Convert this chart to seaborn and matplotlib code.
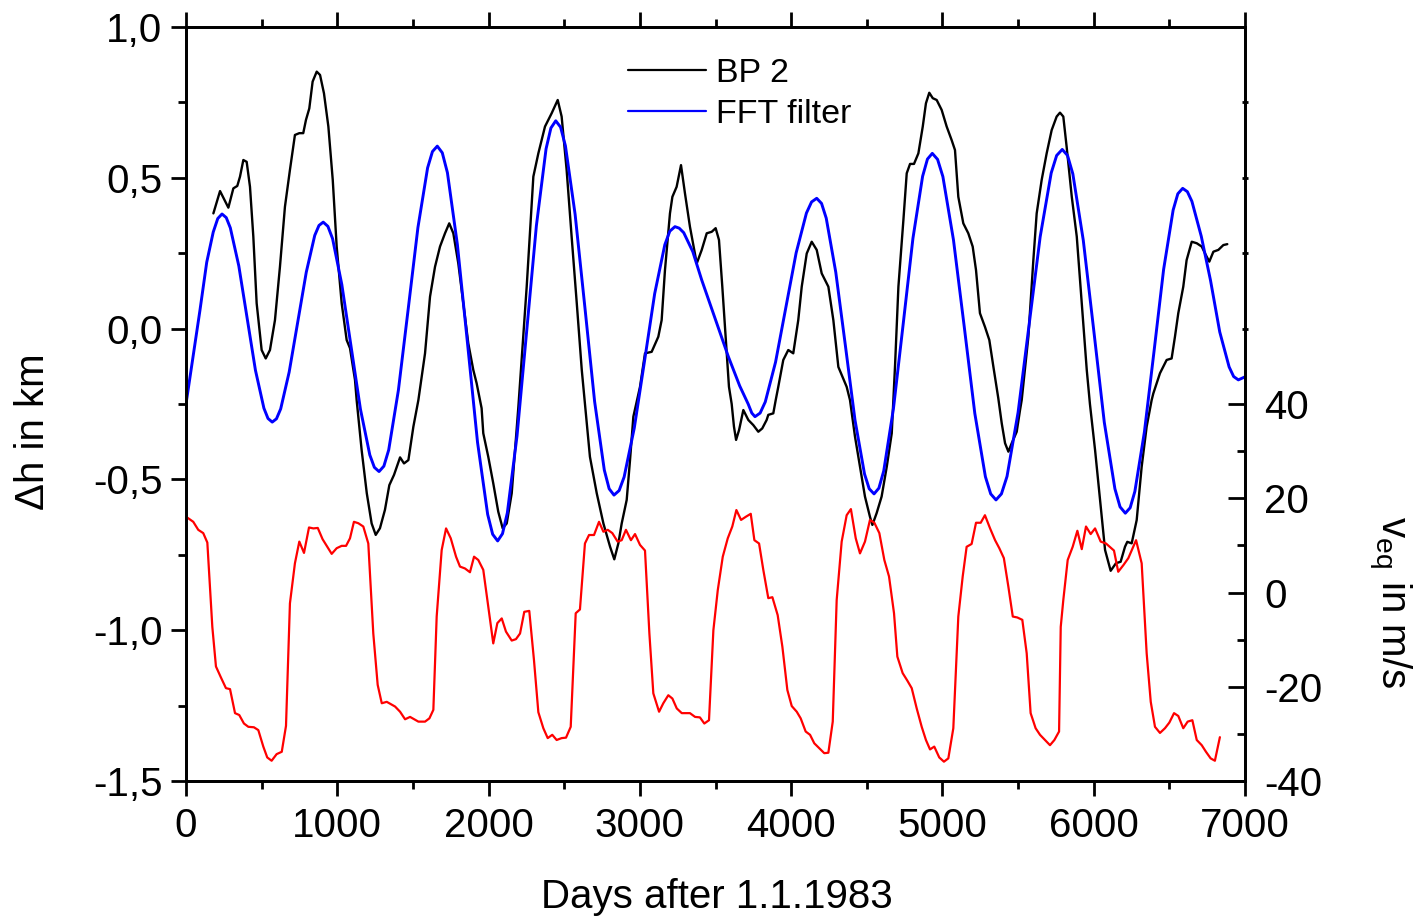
import matplotlib
matplotlib.use('Agg')
import matplotlib.pyplot as plt
import seaborn as sns
from matplotlib.ticker import MultipleLocator, FixedLocator, FuncFormatter, NullFormatter

# ---------------- data ----------------
bp2_days = [181, 225, 280, 313, 339, 357, 379, 401, 423, 445, 467, 500, 527, 555, 588, 621, 654, 687,
            720, 749, 775, 793, 815, 837, 864, 886, 912, 941, 970, 996, 1029, 1062, 1084, 1117, 1128,
            1161, 1195, 1227, 1254, 1282, 1315, 1344, 1375, 1415, 1441, 1470, 1503, 1536, 1580, 1613,
            1646, 1679, 1712, 1740, 1767, 1800, 1833, 1866, 1899, 1921, 1954, 1965, 1998, 2031, 2064,
            2093, 2120, 2153, 2175, 2197, 2252, 2296, 2329, 2373, 2417, 2457, 2483, 2516, 2549, 2583,
            2616, 2637, 2670, 2715, 2759, 2803, 2831, 2858, 2880, 2913, 2935, 2957, 3001, 3034, 3078,
            3122, 3144, 3166, 3199, 3215, 3243, 3272, 3298, 3331, 3376, 3409, 3442, 3475, 3501, 3523,
            3545, 3567, 3589, 3607, 3622, 3636, 3656, 3684, 3717, 3750, 3783, 3809, 3838, 3849, 3882,
            3898, 3915, 3948, 3981, 4014, 4047, 4070, 4103, 4136, 4169, 4202, 4246, 4279, 4312, 4367,
            4389, 4422, 4455, 4488, 4521, 4537, 4565, 4598, 4632, 4665, 4687, 4709, 4742, 4764, 4786,
            4812, 4841, 4870, 4891, 4913, 4936, 4962, 4995, 5028, 5061, 5083, 5105, 5138, 5171, 5200,
            5222, 5248, 5281, 5310, 5337, 5369, 5392, 5414, 5436, 5458, 5491, 5513, 5524, 5568, 5601,
            5623, 5656, 5689, 5722, 5755, 5777, 5799, 5821, 5855, 5888, 5921, 5954, 5975, 6009, 6042,
            6075, 6112, 6147, 6178, 6207, 6222, 6251, 6284, 6317, 6350, 6383, 6394, 6438, 6482, 6515,
            6537, 6559, 6592, 6614, 6648, 6681, 6714, 6736, 6764, 6791, 6824, 6857, 6883]
bp2_km = [0.382, 0.456, 0.401, 0.465, 0.473, 0.504, 0.559, 0.553, 0.47, 0.305, 0.084, -0.071, -0.099,
          -0.071, 0.028, 0.205, 0.404, 0.526, 0.642, 0.648, 0.648, 0.692, 0.73, 0.819, 0.852, 0.841,
          0.78, 0.67, 0.493, 0.272, 0.084, -0.038, -0.065, -0.17, -0.237, -0.403, -0.546, -0.646,
          -0.684, -0.662, -0.601, -0.519, -0.485, -0.427, -0.447, -0.436, -0.325, -0.237, -0.082,
          0.106, 0.205, 0.272, 0.316, 0.349, 0.316, 0.216, 0.084, -0.049, -0.137, -0.181, -0.264,
          -0.347, -0.425, -0.513, -0.607, -0.662, -0.646, -0.546, -0.403, -0.259, 0.139, 0.504, 0.581,
          0.67, 0.714, 0.758, 0.703, 0.526, 0.305, 0.084, -0.137, -0.25, -0.425, -0.546, -0.646, -0.723,
          -0.765, -0.712, -0.646, -0.568, -0.436, -0.292, -0.193, -0.082, -0.077, -0.027, 0.028, 0.194,
          0.382, 0.437, 0.47, 0.542, 0.449, 0.338, 0.216, 0.261, 0.316, 0.321, 0.333, 0.294, 0.139,
          -0.027, -0.193, -0.25, -0.325, -0.369, -0.336, -0.27, -0.303, -0.32, -0.342, -0.331, -0.303,
          -0.286, -0.281, -0.237, -0.193, -0.104, -0.071, -0.082, 0.028, 0.139, 0.249, 0.288, 0.261,
          0.183, 0.139, 0.028, -0.127, -0.193, -0.237, -0.358, -0.458, -0.557, -0.624, -0.651, -0.612,
          -0.557, -0.458, -0.347, -0.12, 0.139, 0.36, 0.515, 0.546, 0.546, 0.581, 0.67, 0.747, 0.782,
          0.764, 0.758, 0.725, 0.67, 0.625, 0.592, 0.437, 0.349, 0.316, 0.272, 0.194, 0.051, 0.006,
          -0.038, -0.127, -0.23, -0.314, -0.38, -0.408, -0.38, -0.342, -0.27, -0.237, -0.027, 0.227,
          0.382, 0.493, 0.581, 0.658, 0.703, 0.716, 0.703, 0.603, 0.437, 0.305, 0.084, -0.137, -0.25,
          -0.403, -0.568, -0.734, -0.803, -0.778, -0.773, -0.723, -0.707, -0.712, -0.635, -0.458,
          -0.325, -0.237, -0.215, -0.148, -0.104, -0.099, -0.027, 0.051, 0.139, 0.227, 0.288, 0.283,
          0.272, 0.249, 0.222, 0.255, 0.261, 0.277, 0.28]

fft_days = [0, 92, 137, 180, 210, 238, 266, 293, 349, 404, 459, 515, 542, 570, 598, 626, 682, 739, 795,
            851, 879, 907, 938, 969, 1030, 1092, 1153, 1215, 1245, 1276, 1308, 1340, 1404, 1469, 1533,
            1597, 1629, 1661, 1694, 1728, 1794, 1861, 1927, 1994, 2027, 2060, 2092, 2124, 2188, 2252,
            2316, 2380, 2412, 2444, 2476, 2508, 2572, 2637, 2701, 2765, 2797, 2829, 2863, 2896, 2963,
            3031, 3098, 3165, 3198, 3232, 3260, 3290, 3350, 3409, 3500, 3585, 3660, 3716, 3740, 3761,
            3795, 3829, 3897, 3965, 4033, 4101, 4135, 4169, 4201, 4232, 4295, 4359, 4422, 4485, 4516,
            4548, 4580, 4612, 4676, 4741, 4805, 4869, 4901, 4933, 4968, 5003, 5073, 5144, 5214, 5284,
            5319, 5354, 5390, 5427, 5500, 5573, 5646, 5719, 5755, 5792, 5827, 5862, 5931, 6001, 6070,
            6140, 6174, 6209, 6241, 6272, 6335, 6399, 6462, 6525, 6556, 6588, 6619, 6649, 6711, 6772,
            6833, 6895, 6925, 6956, 7000]
fft_km = [-0.25, 0.06, 0.22, 0.32, 0.365, 0.38, 0.368, 0.334, 0.208, 0.035, -0.138, -0.264, -0.298,
          -0.31, -0.299, -0.266, -0.144, 0.022, 0.187, 0.309, 0.342, 0.353, 0.339, 0.298, 0.146,
          -0.061, -0.267, -0.419, -0.46, -0.474, -0.456, -0.402, -0.204, 0.066, 0.335, 0.533, 0.587,
          0.605, 0.583, 0.517, 0.278, -0.05, -0.377, -0.616, -0.682, -0.704, -0.68, -0.611, -0.356,
          -0.008, 0.341, 0.596, 0.665, 0.689, 0.668, 0.606, 0.379, 0.069, -0.242, -0.469, -0.531,
          -0.552, -0.537, -0.492, -0.33, -0.107, 0.116, 0.278, 0.323, 0.338, 0.333, 0.318, 0.255,
          0.161, 0.03, -0.093, -0.19, -0.25, -0.28, -0.292, -0.28, -0.243, -0.111, 0.07, 0.251, 0.383,
          0.42, 0.432, 0.415, 0.366, 0.187, -0.058, -0.303, -0.482, -0.531, -0.548, -0.529, -0.472,
          -0.266, 0.017, 0.299, 0.505, 0.562, 0.581, 0.561, 0.504, 0.294, 0.007, -0.281, -0.491,
          -0.548, -0.568, -0.548, -0.49, -0.278, 0.013, 0.304, 0.516, 0.574, 0.594, 0.574, 0.513,
          0.293, -0.009, -0.311, -0.531, -0.591, -0.612, -0.594, -0.54, -0.343, -0.074, 0.196, 0.393,
          0.447, 0.465, 0.454, 0.422, 0.306, 0.16, -0.011, -0.127, -0.159, -0.17, -0.16]

veq_days = [4, 48, 81, 114, 141, 174, 198, 229, 264, 291, 324, 352, 383, 412, 449, 478, 511, 537, 566,
            599, 633, 661, 687, 720, 749, 780, 813, 842, 871, 903, 963, 996, 1029, 1058, 1084, 1110,
            1139, 1172, 1205, 1238, 1267, 1294, 1327, 1355, 1382, 1415, 1448, 1481, 1536, 1580, 1609,
            1635, 1657, 1690, 1719, 1750, 1785, 1811, 1844, 1877, 1904, 1932, 1965, 1998, 2031, 2058,
            2087, 2115, 2153, 2181, 2208, 2236, 2269, 2300, 2329, 2362, 2391, 2421, 2450, 2483, 2512,
            2543, 2576, 2604, 2637, 2664, 2697, 2730, 2759, 2788, 2818, 2853, 2880, 2908, 2941, 2968,
            3001, 3034, 3063, 3089, 3127, 3155, 3188, 3215, 3244, 3277, 3331, 3365, 3397, 3426, 3457,
            3486, 3515, 3548, 3581, 3611, 3638, 3669, 3702, 3733, 3757, 3788, 3816, 3849, 3876, 3911,
            3942, 3975, 4004, 4037, 4063, 4096, 4125, 4153, 4184, 4219, 4246, 4275, 4301, 4334, 4367,
            4395, 4427, 4455, 4488, 4521, 4550, 4583, 4616, 4647, 4680, 4702, 4737, 4768, 4797, 4830,
            4863, 4891, 4918, 4946, 4979, 5010, 5039, 5072, 5105, 5134, 5160, 5193, 5222, 5253, 5281,
            5315, 5348, 5376, 5406, 5436, 5465, 5495, 5528, 5557, 5583, 5616, 5645, 5678, 5711, 5740,
            5771, 5782, 5799, 5828, 5861, 5892, 5921, 5949, 5980, 6009, 6046, 6081, 6134, 6162, 6196,
            6229, 6280, 6317, 6350, 6377, 6405, 6438, 6471, 6500, 6531, 6559, 6592, 6621, 6652, 6681,
            6714, 6742, 6773, 6801, 6834]
veq_ms = [16.0, 15.0, 13.3, 12.6, 10.6, -7.3, -15.7, -17.9, -20.3, -20.5, -25.6, -26.0, -27.8, -28.5,
          -28.6, -29.2, -32.7, -35.0, -35.7, -34.3, -33.8, -28.3, -2.3, 6.2, 10.8, 8.4, 13.8, 13.6,
          13.7, 11.3, 8.2, 9.4, 9.9, 9.9, 11.5, 15.0, 14.7, 14.0, 10.4, -8.7, -19.6, -23.5, -23.2,
          -23.7, -24.2, -25.3, -26.9, -26.4, -27.4, -27.4, -26.7, -24.9, -5.1, 9.0, 13.6, 11.5, 7.6,
          5.5, 5.1, 4.3, 7.6, 6.9, 4.8, -3.0, -10.8, -6.5, -5.5, -8.3, -10.2, -9.9, -8.7, -4.1, -3.9,
          -14.3, -25.4, -28.8, -30.9, -30.2, -31.3, -30.9, -30.8, -28.5, -4.4, -3.6, 10.4, 12.2, 12.2,
          15.0, 12.9, 13.3, 12.6, 10.8, 11.1, 13.3, 11.1, 12.4, 10.1, 8.9, -8.7, -21.4, -25.3, -23.5,
          -21.8, -22.5, -24.6, -25.6, -25.6, -26.4, -26.5, -27.8, -27.1, -8.0, 0.5, 7.6, 11.5, 14.0,
          17.5, 15.4, 16.1, 16.7, 11.1, 10.4, 4.8, -1.2, -1.0, -4.8, -11.5, -20.7, -24.1, -25.3,
          -26.7, -29.5, -30.2, -32.0, -33.0, -34.1, -34.0, -27.4, -1.6, 10.8, 16.4, 17.7, 11.5, 8.3,
          10.8, 15.4, 14.8, 12.6, 6.9, 3.4, -4.4, -13.6, -17.1, -18.7, -20.3, -24.6, -28.5, -31.3,
          -33.3, -32.7, -35.0, -35.9, -35.2, -28.8, -5.1, 3.4, 9.7, 10.3, 14.8, 14.8, 16.4, 13.6, 11.1,
          9.4, 7.3, 1.2, -5.1, -5.3, -5.8, -12.9, -25.6, -28.8, -30.2, -31.3, -32.4, -31.3, -29.5,
          -7.3, -1.6, 6.9, 9.7, 13.1, 9.2, 14.0, 12.4, 13.6, 10.8, 10.4, 8.9, 4.4, 5.8, 7.3, 11.1,
          6.2, -12.9, -23.2, -28.5, -29.8, -28.8, -27.6, -25.6, -26.2, -28.8, -27.4, -27.1, -31.3,
          -32.4, -33.8, -35.2, -35.7, -30.7]

x_label = 'Days after 1.1.1983'
y_label_left = 'Δh in km'
y_label_right = r'v$_{eq}$ in m/s'
series_labels = ['BP 2', 'FFT filter']

# ---------------- style ----------------
sns.set_theme(style='ticks')
plt.rcParams['font.family'] = ['Liberation Sans', 'DejaVu Sans']
plt.rcParams.update({
    'axes.unicode_minus': False,
    'mathtext.default': 'regular',
    'axes.edgecolor': 'black',
    'xtick.color': 'black',
    'ytick.color': 'black',
    'text.color': 'black',
    'axes.labelcolor': 'black',
})

W, H = 1427, 919
fig = plt.figure(figsize=(W / 100, H / 100), dpi=100)
L, R, T, B = 186, 1245, 27, 781
ax = fig.add_axes([L / W, 1 - B / H, (R - L) / W, (B - T) / H])
ax2 = ax.twinx()
ax3 = ax.twinx()

sns.lineplot(x=bp2_days, y=bp2_km, ax=ax, color='black', linewidth=1.7,
             label=series_labels[0], sort=False, estimator=None)
sns.lineplot(x=fft_days, y=fft_km, ax=ax, color='#0000ff', linewidth=2.1,
             label=series_labels[1], sort=False, estimator=None)
sns.lineplot(x=veq_days, y=veq_ms, ax=ax2, color='#ff0000', linewidth=1.6,
             sort=False, estimator=None, legend=False)

ax.set_xlim(0, 7000)
ax.set_ylim(-1.5, 1.0)
ax2.set_ylim(-40, 120)
ax3.set_ylim(-1.5, 1.0)

lw_axis = 2.0
for a in (ax, ax2, ax3):
    for s in a.spines.values():
        s.set_linewidth(lw_axis)
        s.set_color('black')
for s in ax3.spines.values():
    s.set_visible(False)

# x axis
ax.xaxis.set_major_locator(MultipleLocator(1000))
ax.xaxis.set_minor_locator(MultipleLocator(500))
ax.xaxis.set_major_formatter(FuncFormatter(lambda v, p: f'{int(round(v))}'))
# left y axis
ax.yaxis.set_major_locator(MultipleLocator(0.5))
ax.yaxis.set_minor_locator(MultipleLocator(0.25))
ax.yaxis.set_major_formatter(FuncFormatter(lambda v, p: f'{v:.1f}'.replace('.', ',')))

ax.tick_params(axis='both', which='major', direction='out', length=11, width=lw_axis,
               labelsize=29, pad=6)
ax.tick_params(axis='both', which='minor', direction='out', length=6, width=lw_axis)
ax.tick_params(axis='x', which='both', top=True, bottom=True)
ax.tick_params(axis='y', which='both', left=True, right=False)
ax.tick_params(axis='x', which='major', pad=8)

# right y axis
ax2.yaxis.set_major_locator(FixedLocator([-40, -20, 0, 20, 40]))
ax2.yaxis.set_minor_locator(FixedLocator([-30, -10, 10, 30]))
ax2.yaxis.set_major_formatter(FuncFormatter(lambda v, p: f'{int(round(v))}'))
ax2.tick_params(axis='y', which='major', direction='in', length=12, width=lw_axis,
                labelsize=29, pad=14)
ax2.tick_params(axis='y', which='minor', direction='in', length=6, width=lw_axis)

# small marks on the upper right spine
ax3.yaxis.set_major_locator(FixedLocator([0.0, 0.25, 0.5, 0.75]))
ax3.yaxis.set_major_formatter(NullFormatter())
ax3.tick_params(axis='y', which='major', direction='inout', length=5, width=lw_axis,
                left=False, right=True)
ax3.set_ylabel('')

# labels
ax.set_xlabel(x_label, fontsize=29)
ax.xaxis.set_label_coords(0.501, -0.128)
ax.xaxis.label.set_va('top')
ax.set_ylabel(y_label_left, fontsize=29)
ax.yaxis.set_label_coords(-0.1265, 0.463)
ax2.set_ylabel(y_label_right, fontsize=29, rotation=270)
ax2.yaxis.set_label_coords(1.114, 0.237)
ax2.yaxis.label.set_va('bottom')

leg = ax.legend(loc='upper left', bbox_to_anchor=(0.4174, 0.959), frameon=False,
                fontsize=24.5, handlelength=2.3, handletextpad=0.3, labelspacing=0.3,
                borderpad=0, borderaxespad=0)
for h in leg.get_lines():
    h.set_linewidth(1.6)

fig.savefig('out.png', dpi=100)
